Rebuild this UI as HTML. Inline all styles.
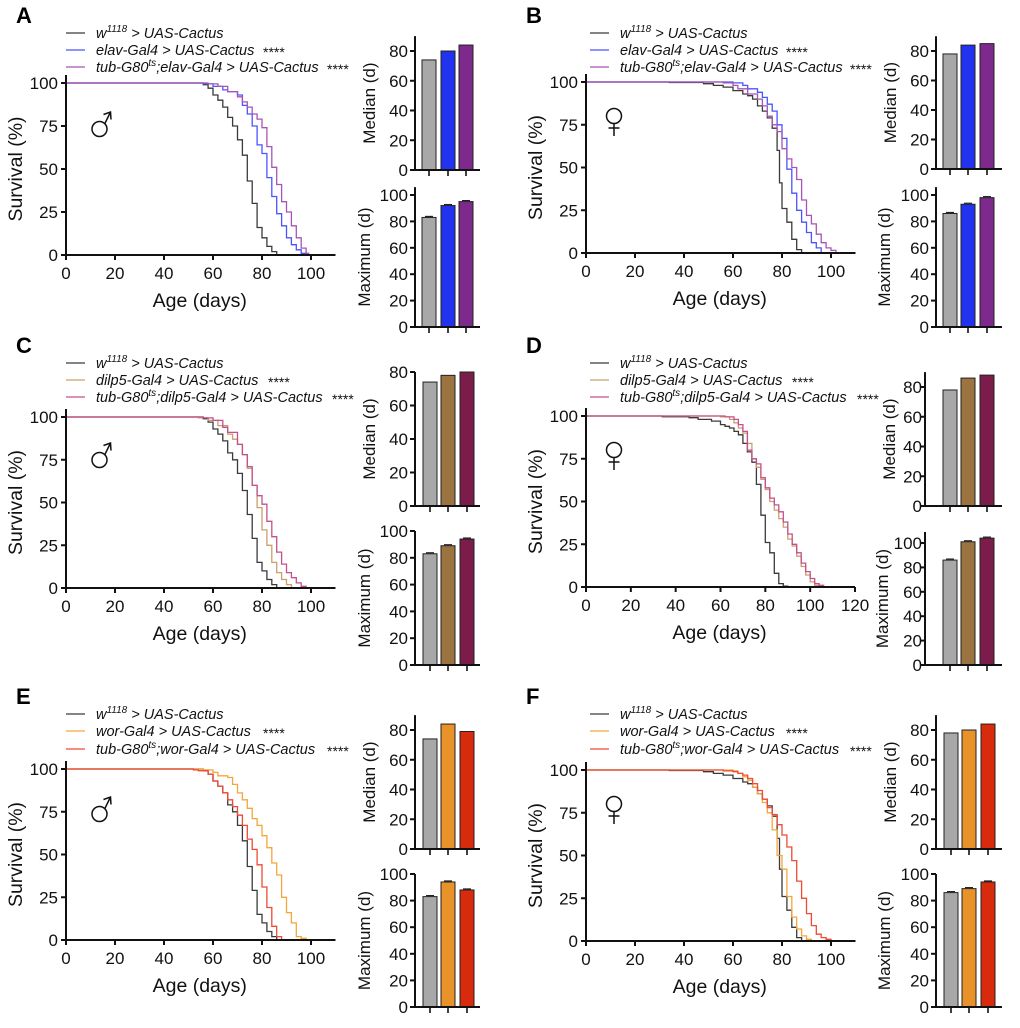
<!DOCTYPE html>
<html><head><meta charset="utf-8">
<style>
html,body{margin:0;padding:0;background:#fff;}
svg{display:block;font-family:"Liberation Sans",Arial,sans-serif;}
</style></head>
<body>
<svg id="fig" width="1020" height="1028" viewBox="0 0 1020 1028" xmlns="http://www.w3.org/2000/svg"></svg>
<script>
// ---------- DATA ----------
const A_ctrl_days=[52,56,58,60,62,64,66,68,70,72,74,76,78,80,82,84,86];
const A_ctrl_surv=[100,99,97,93,90,86,80,75,67,58,43,30,16,10,5,2,0];
const A_g1_days=[52,56,60,64,66,70,72,74,76,78,80,82,84,86,88,90,92,94,96,98];
const A_g1_surv=[100,99.5,98,96,95,93,87,82,75,64,59,45,34,24,17,10,6,3,1,0];
const A_g2_days=[58,62,66,70,72,74,76,78,80,82,84,86,88,90,92,94,96,98,99];
const A_g2_surv=[99.5,98,95,92,89,86,82,79,74,63,51,41,31,25,17,10,4,1,0];

const B_ctrl_days=[34,48,52,56,60,64,66,68,70,72,74,76,78,79,80,82,84,86,88];
const B_ctrl_surv=[99.7,99,98,97,95,93,92,90,86,83,79,73,60,41,26,18,8,2,0];
const B_g1_days=[60,64,66,70,72,74,76,78,80,82,84,86,88,90,92,94,96];
const B_g1_surv=[99.5,98,96,94,91,87,83,75,67,49,35,25,18,12,6,3,0];
const B_g2_days=[56,60,62,66,70,72,74,76,78,80,82,84,86,88,90,92,94,96,98,100,102];
const B_g2_surv=[99.5,98,96,93,90,86,80,75,71,61,55,50,43,31,22,17,11,6,3,1.5,0];

const C_ctrl_days=[52,56,58,60,62,64,66,68,70,72,74,76,78,80,82,84,86];
const C_ctrl_surv=[100,99,97,93,90,86,79,75,67,57,43,29,15,10,5,2,0];
const C_g1_days=[54,58,62,66,68,70,72,74,76,78,80,82,84,86,88,90,92];
const C_g1_surv=[99.5,98,95,90,87,84,78,70,60,47,34,25,15,9,5,2,0];
const C_g2_days=[56,60,64,66,70,72,74,76,78,80,82,84,86,88,90,92,94,96,98];
const C_g2_surv=[99.5,98,94,91,84,78,71,60,54,49,39,30,21,14,9,6,3,1,0];

const D_ctrl_days=[34,46,50,56,60,62,64,66,68,70,72,74,76,78,80,82,84,86,88,90];
const D_ctrl_surv=[99.6,99,98,97,95,94,93,91,89,84,79,73,60,42,26,20,8,2,0.5,0];
const D_g1_days=[60,64,66,68,70,72,74,76,78,80,82,84,86,88,90,92,94,96,98,100,102,104];
const D_g1_surv=[99.5,98,96,93,90,84,75,70,63,57,50,45,40,35,28,24,18,12,7,3,1,0];
const D_g2_days=[62,66,68,70,72,74,76,78,80,82,84,86,88,90,92,94,96,98,100,102,104,106];
const D_g2_surv=[99.5,98,95,91,80,75,72,64,58,52,48,44,38,31,25,20,14,9,5,2,1,0];

const E_ctrl_days=[52,56,58,60,62,64,66,68,70,72,74,76,78,80,82,84,86];
const E_ctrl_surv=[100,99,97,93,90,86,79,75,67,58,43,29,15,10,5,2,0];
const E_g1_days=[56,60,62,66,68,70,72,74,76,78,80,82,84,86,88,90,92,94,96,98];
const E_g1_surv=[99.5,98,96,95,91,86,82,77,71,67,61,54,45,38,25,16,10,2,1,0];
const E_g2_days=[52,54,58,60,62,64,66,68,70,72,74,76,78,80,82,84,86,88];
const E_g2_surv=[99.5,99,97,93,90,86,82,78,73,67,59,53,44,31,19,8,2,0];

const F_ctrl_days=[34,48,52,56,60,64,66,68,70,72,74,76,78,79,80,82,84,86,88];
const F_ctrl_surv=[99.7,99,98,97,95,93,92,90,86,83,79,73,60,42,26,18,8,2,0];
const F_g1_days=[60,62,64,66,68,70,72,74,76,78,80,82,84,86,88,90,92];
const F_g1_surv=[99.5,98,96,94,90,86,81,75,65,50,42,26,14,7,3,1,0];
const F_g2_days=[56,60,62,64,66,68,70,72,74,76,78,80,82,84,86,88,90,92,94,96,98,100];
const F_g2_surv=[99.5,99,98,97,95,92,88,83,78,74,68,62,55,47,35,25,16,9,4,2,1,0];

const A_median=[74,80,84]; const A_max=[83,92,95];
const B_median=[78,84,85]; const B_max=[86,93,98];
const C_median=[74,78,80]; const C_max=[83,89,94];
const D_median=[78,86,88]; const D_max=[86,101,104];
const E_median=[74,84,79]; const E_max=[83,94,88];
const F_median=[78,80,84]; const F_max=[86,89,94];

const surv_ticks=[0,25,50,75,100];
const median_ticks=[0,20,40,60,80];
const max_ticks=[0,20,40,60,80,100];

// ---------- DRAWING ----------
const NS="http://www.w3.org/2000/svg";
const fig=document.getElementById('fig');
function mk(tag,attrs,parent){const e=document.createElementNS(NS,tag);for(const k in attrs)e.setAttribute(k,attrs[k]);(parent||fig).appendChild(e);return e;}

const panels=[
 {id:'A',ox:0,x0:66,ppd:2.45,xmax:110,xticks:[0,20,40,60,80,100],y100:83,y0:255,leg:[33,50,67],legx:66,stars:[263,327],male:true,sexX:99.5,sexY:129,
  g1:'elav-Gal4',c:['#3a3a3a','#4a55ff','#a655b5'],bc:['#a8a8a8','#2233f0','#7d2a8c'],
  bax:415,bars:[422,441,459],bend:480,m0:170,mScale:1.4875,mTop:90,medT:40,maxT:45,lg:7,
  mx0:327,mxScale:1.32,mxTop:106,med:A_median,mx:A_max,data:[[A_ctrl_days,A_ctrl_surv],[A_g1_days,A_g1_surv],[A_g2_days,A_g2_surv]]},
 {id:'B',ox:510,x0:586,ppd:2.45,xmax:110,xticks:[0,20,40,60,80,100],y100:82,y0:253,leg:[33,50,67],legx:590,stars:[786,850],male:false,sexX:614,sexY:116,
  g1:'elav-Gal4',c:['#3a3a3a','#4a55ff','#a655b5'],bc:['#a8a8a8','#2233f0','#7d2a8c'],
  bax:936,bars:[943,961,980],bend:1002,m0:169,mScale:1.475,mTop:90,medT:40,maxT:46,lg:7,
  mx0:327,mxScale:1.32,mxTop:106,med:B_median,mx:B_max,data:[[B_ctrl_days,B_ctrl_surv],[B_g1_days,B_g1_surv],[B_g2_days,B_g2_surv]]},
 {id:'C',ox:0,x0:66,ppd:2.45,xmax:110,xticks:[0,20,40,60,80,100],y100:417,y0:588,leg:[363,380,397],legx:66,stars:[268,332],male:true,sexX:99.5,sexY:460,
  g1:'dilp5-Gal4',c:['#3a3a3a','#c9a06a','#c5508c'],bc:['#a8a8a8','#9c7442','#7b1c4b'],
  bax:415,bars:[423,441,460],bend:480,m0:506,mScale:1.675,mTop:80,medT:40,maxT:45,lg:7,
  mx0:665,mxScale:1.34,mxTop:100,med:C_median,mx:C_max,data:[[C_ctrl_days,C_ctrl_surv],[C_g1_days,C_g1_surv],[C_g2_days,C_g2_surv]]},
 {id:'D',ox:510,x0:586,ppd:2.2417,xmax:120,xticks:[0,20,40,60,80,100,120],y100:416,y0:587,leg:[363,380,397],legx:590,stars:[792,857],male:false,sexX:614,sexY:450,
  g1:'dilp5-Gal4',c:['#3a3a3a','#c9a06a','#c5508c'],bc:['#a8a8a8','#9c7442','#7b1c4b'],
  bax:925,bars:[943,961,980],bend:1002,m0:506,mScale:1.4875,mTop:90,medT:30,maxT:37,lg:3,
  mx0:665,mxScale:1.22,mxTop:109,med:D_median,mx:D_max,data:[[D_ctrl_days,D_ctrl_surv],[D_g1_days,D_g1_surv],[D_g2_days,D_g2_surv]]},
 {id:'E',ox:0,x0:66,ppd:2.45,xmax:110,xticks:[0,20,40,60,80,100],y100:769,y0:940,leg:[714,731,749],legx:66,stars:[263,327],male:true,sexX:99.5,sexY:814,
  g1:'wor-Gal4',c:['#3a3a3a','#f5a63a','#ee4a35'],bc:['#a8a8a8','#e8922a','#d82a0c'],
  bax:415,bars:[423,441,460],bend:480,m0:849,mScale:1.4875,mTop:90,medT:40,maxT:45,lg:7,
  mx0:1007,mxScale:1.33,mxTop:100,med:E_median,mx:E_max,data:[[E_ctrl_days,E_ctrl_surv],[E_g1_days,E_g1_surv],[E_g2_days,E_g2_surv]]},
 {id:'F',ox:510,x0:586,ppd:2.45,xmax:110,xticks:[0,20,40,60,80,100],y100:770,y0:941,leg:[714,731,749],legx:590,stars:[786,850],male:false,sexX:614,sexY:804,
  g1:'wor-Gal4',c:['#3a3a3a','#f5a63a','#ee4a35'],bc:['#a8a8a8','#e8922a','#d82a0c'],
  bax:936,bars:[944,962,981],bend:1002,m0:849,mScale:1.4875,mTop:90,medT:40,maxT:46,lg:7,
  mx0:1007,mxScale:1.33,mxTop:100,med:F_median,mx:F_max,data:[[F_ctrl_days,F_ctrl_surv],[F_g1_days,F_g1_surv],[F_g2_days,F_g2_surv]]}
];

panels.forEach(p=>{
  const g=mk('g',{});
  
  
  const xS=d=>p.x0+d*p.ppd;
  const yS=v=>p.y0-(v/100)*(p.y0-p.y100);
  const ly0=p.leg[0]-20;
  const L=mk('text',{x:p.ox+16,y:ly0+10,'font-size':22,'font-weight':'bold',fill:'#000'},g);
  L.textContent=p.id;
  
  
  for(let i=0;i<3;i++){
    const y=p.leg[i];
    const ln=mk('line',{x1:p.legx,x2:p.legx+19,y1:y,y2:y,stroke:p.c[i],'stroke-width':1.3},g);
    
    
    const t=mk('text',{x:p.legx+30,y:y+5,'font-size':14.5,'font-style':'italic',fill:'#111'},g);
    
    
    if(i===0){
      const a=mk('tspan',{},t);a.textContent='w';
      const s=mk('tspan',{'font-size':10,dy:-6},t);s.textContent='1118';
      const b=mk('tspan',{dy:6},t);b.textContent=' > UAS-Cactus';
    }else if(i===1){
      t.textContent=p.g1+' > UAS-Cactus';
    }else{
      const a=mk('tspan',{},t);a.textContent='tub-G80';
      const s=mk('tspan',{'font-size':10,dy:-6},t);s.textContent='ts';
      const b=mk('tspan',{dy:6},t);b.textContent=';'+p.g1+' > UAS-Cactus';
    }
    if(i>0){
      const st=mk('text',{x:p.stars[i-1],y:y+7,'font-size':14,fill:'#111'},g);
      st.textContent='****';
      
      
    }
  }
  p.data.forEach((ser,si)=>{
    const days=ser[0],surv=ser[1];
    let d='M'+xS(0)+','+yS(100);
    for(let k=0;k<days.length;k++){
      d+=' H'+xS(days[k]).toFixed(1)+' V'+yS(surv[k]).toFixed(1);
    }
    const pa=mk('path',{d:d,fill:'none',stroke:p.c[si],'stroke-width':1.3},g);
    
    
  });
  const ax=mk('path',{d:`M${p.x0},${p.y100-8} V${p.y0} H${xS(p.xmax)}`,fill:'none',stroke:'#111','stroke-width':2},g);
  
  
  surv_ticks.forEach(v=>{
    mk('line',{x1:p.x0-5,x2:p.x0,y1:yS(v),y2:yS(v),stroke:'#111','stroke-width':2},g);
    const t=mk('text',{x:p.x0-8,y:yS(v)+6,'font-size':17,'text-anchor':'end',fill:'#111'},g);
    t.textContent=v;
    
    
  });
  p.xticks.forEach(v=>{
    mk('line',{x1:xS(v),x2:xS(v),y1:p.y0,y2:p.y0+5,stroke:'#111','stroke-width':2},g);
    const t=mk('text',{x:xS(v),y:p.y0+24,'font-size':17,'text-anchor':'middle',fill:'#111'},g);
    t.textContent=v;
    
    
  });
  const xt=mk('text',{x:p.x0+(xS(p.xmax)-p.x0)/2-1,y:p.y0+52,'font-size':19.5,'text-anchor':'middle',fill:'#111'},g);
  xt.textContent='Age (days)';
  
  
  const yc=(p.y0+p.y100)/2;
  const ytx=p.x0-44;
  const yt=mk('text',{x:ytx,y:yc,'font-size':19.5,'text-anchor':'middle',fill:'#111',transform:`rotate(-90 ${ytx} ${yc})`},g);
  yt.textContent='Survival (%)';
  
  
  const sg=mk('g',{fill:'none',stroke:'#111','stroke-width':1.5},g);
  
  
  const cx=p.sexX,cy=p.sexY;
  mk('circle',{cx:cx,cy:cy,r:7.5},sg);
  if(p.male){
    mk('path',{d:`M${cx+5.3},${cy-5.3} L${cx+11},${cy-17} M${cx+4},${cy-14.5} L${cx+11},${cy-17} L${cx+11.5},${cy-9.5}`},sg);
  }else{
    mk('path',{d:`M${cx},${cy+7.5} V${cy+20} M${cx-5.5},${cy+12} H${cx+5.5}`},sg);
  }

  function barChart(vals,y0,scale,top,ticks,title,err,nm,toff){
    const bg=mk('g',{},g);
    
    
    const yB=v=>y0-v*scale;
    vals.forEach((v,i)=>{
      const r=mk('rect',{x:p.bars[i],y:yB(v),width:14,height:v*scale,fill:p.bc[i],stroke:'#222','stroke-width':1},bg);
      
      
      if(err){
        const bx=p.bars[i]+7;
        mk('line',{x1:bx-4,x2:bx+4,y1:yB(v)-1,y2:yB(v)-1,stroke:'#222','stroke-width':1.2},bg);
      }
      mk('line',{x1:p.bars[i]+7,x2:p.bars[i]+7,y1:y0,y2:y0+6,stroke:'#111','stroke-width':1.6},bg);
    });
    mk('path',{d:`M${p.bax},${yB(top)} V${y0} H${p.bend}`,fill:'none',stroke:'#111','stroke-width':2},bg);
    ticks.forEach(v=>{
      mk('line',{x1:p.bax-5,x2:p.bax,y1:yB(v),y2:yB(v),stroke:'#111','stroke-width':2},bg);
      const t=mk('text',{x:p.bax-p.lg,y:yB(v)+6,'font-size':17,'text-anchor':'end',fill:'#111'},bg);
      t.textContent=v;
      
      
    });
    const cy2=(y0+yB(top))/2;
    const tx=p.bax-toff;
    const tt=mk('text',{x:tx,y:cy2,'font-size':17,'text-anchor':'middle',fill:'#111',transform:`rotate(-90 ${tx} ${cy2})`},bg);
    tt.textContent=title;
    
    
  }
  barChart(p.med,p.m0,p.mScale,p.mTop,median_ticks,'Median (d)',false,'median-bar-chart',p.medT);
  barChart(p.mx,p.mx0,p.mxScale,p.mxTop,max_ticks,'Maximum (d)',true,'maximum-bar-chart',p.maxT);
});
</script>
</body></html>
